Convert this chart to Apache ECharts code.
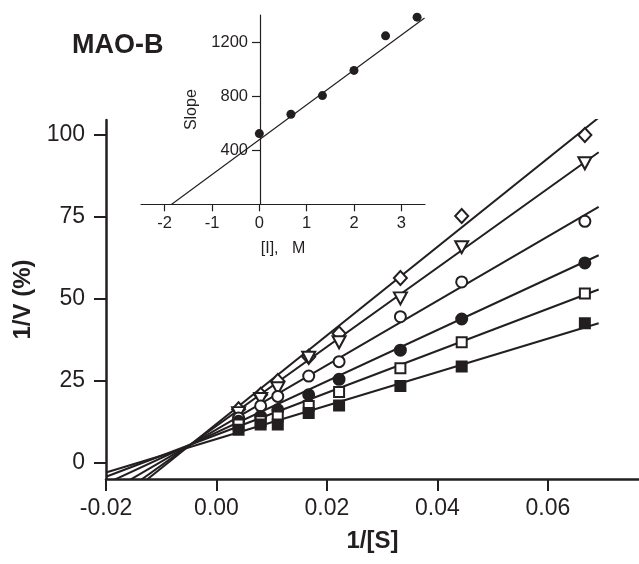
<!DOCTYPE html>
<html>
<head>
<meta charset="utf-8">
<script src="https://cdn.jsdelivr.net/npm/echarts@6/dist/echarts.min.js"></script>
<style>
html,body{margin:0;padding:0;background:#fff;}
#chart{width:639px;height:564px;}
</style>
</head>
<body>
<div id="chart"></div>
<script>
// ---- Main Lineweaver-Burk plot data ----
var invS = [0.004, 0.008, 0.0111, 0.0167, 0.0222, 0.0333, 0.0444, 0.0667];
var diamondY = [16.3, 20.7, 24.9, 32.3, 39.4, 56.3, 75.2, 99.9];
var triDownY = [15.1, 19.4, 22.7, 32.0, 36.7, 50.1, 65.7, 91.3];
var openCircleY = [13.6, 17.3, 20.2, 26.4, 30.8, 44.5, 55.1, 73.6];
var filledCircleY = [12.6, 14.1, 16.1, 20.7, 25.4, 34.3, 43.8, 60.9];
var openSquareY = [11.6, 12.6, 14.1, 17.3, 21.5, 28.8, 36.7, 51.6];
var filledSquareY = [10.0, 11.6, 11.6, 15.1, 17.4, 23.4, 29.3, 42.5];

// fitted line parameters (slope, intercept)
var fitSlopes = [1350, 1206, 981, 781, 640, 510];
var fitIntercepts = [11.8, 11.2, 10.1, 9.2, 8.5, 7.2];
var fitXRange = [-0.02, 0.0692];

var mainXTicks = [-0.02, 0, 0.02, 0.04, 0.06];
var mainYTicks = [0, 25, 50, 75, 100];

// ---- Inset (replot) data ----
var inhibConc = [0, 0.667, 1.333, 2, 2.667, 3.333];
var slopeVals = [523, 666, 804, 990, 1246, 1384];
var insetFit = {slope: 258, intercept: 478};
var insetFitXRange = [-2.5, 3.49];
var insetXTicks = [-2, -1, 0, 1, 2, 3];
var insetYTicks = [400, 800, 1200];

var INK = '#231f20';
var FONT = '"Liberation Sans", Arial, sans-serif';

function pairs(xs, ys) { return xs.map(function (x, i) { return [x, ys[i]]; }); }
function fitLine(k, b, range) { return [[range[0], b + k * range[0]], [range[1], b + k * range[1]]]; }

var markerDefs = [
  {y: diamondY, symbol: 'diamond', size: [13, 14], fill: '#fff', rot: 0},
  {y: triDownY, symbol: 'triangle', size: [13, 12], fill: '#fff', rot: 180},
  {y: openCircleY, symbol: 'circle', size: 11, fill: '#fff', rot: 0},
  {y: filledCircleY, symbol: 'circle', size: 11, fill: INK, rot: 0},
  {y: openSquareY, symbol: 'rect', size: 10, fill: '#fff', rot: 0},
  {y: filledSquareY, symbol: 'rect', size: 10, fill: INK, rot: 0}
];

var series = [];
fitSlopes.forEach(function (k, i) {
  series.push({
    type: 'line', xAxisIndex: 0, yAxisIndex: 0,
    data: fitLine(k, fitIntercepts[i], fitXRange),
    showSymbol: false, symbol: 'none', clip: true, silent: true,
    lineStyle: {color: INK, width: 2}, z: 2, animation: false
  });
});
markerDefs.forEach(function (m) {
  series.push({
    type: 'scatter', xAxisIndex: 0, yAxisIndex: 0,
    data: pairs(invS, m.y),
    symbol: m.symbol, symbolSize: m.size, symbolRotate: m.rot,
    itemStyle: {color: m.fill, borderColor: INK, borderWidth: 2, opacity: 1},
    z: 3, animation: false
  });
});
// inset
series.push({
  type: 'line', xAxisIndex: 1, yAxisIndex: 1,
  data: fitLine(insetFit.slope, insetFit.intercept, insetFitXRange),
  showSymbol: false, symbol: 'none', clip: true, silent: true,
  lineStyle: {color: INK, width: 1.2}, z: 2, animation: false
});
series.push({
  type: 'scatter', xAxisIndex: 1, yAxisIndex: 1,
  data: pairs(inhibConc, slopeVals),
  symbol: 'circle', symbolSize: 9,
  itemStyle: {color: INK, opacity: 1}, z: 3, animation: false
});

var chart = echarts.init(document.getElementById('chart'), null, {renderer: 'canvas'});
chart.setOption({
  backgroundColor: '#fff',
  animation: false,
  title: {
    text: 'MAO-B', left: 67, top: 27,
    textStyle: {fontFamily: FONT, fontSize: 27, fontWeight: 'bold', color: INK}
  },
  grid: [
    {left: 106, right: 0, top: 120, bottom: 85, containLabel: false},
    {left: 141, width: 284, top: 15, height: 189.3, containLabel: false},
    // grid carrying the inset's vertical axis, placed at [I] = 0
    {left: 260, width: 165, top: 15, height: 189.3, containLabel: false}
  ],
  xAxis: [
    {
      type: 'value', gridIndex: 0, min: -0.02, max: 0.0765,
      name: '1/[S]', nameLocation: 'middle', nameGap: 50,
      nameTextStyle: {fontFamily: FONT, fontSize: 24, fontWeight: 'bold', color: INK},
      axisLine: {onZero: false, lineStyle: {color: INK, width: 2.5}},
      axisTick: {show: true, length: 12, inside: false, customValues: mainXTicks, lineStyle: {color: INK, width: 2}},
      axisLabel: {customValues: mainXTicks, margin: 18, fontFamily: FONT, fontSize: 23, color: INK,
        formatter: function (v) { return v.toFixed(2); }},
      splitLine: {show: false}
    },
    {
      type: 'value', gridIndex: 1, min: -2.5, max: 3.5,
      name: '[I],   M', nameLocation: 'middle', nameGap: 36,
      nameTextStyle: {fontFamily: FONT, fontSize: 16, color: INK},
      axisLine: {onZero: false, lineStyle: {color: INK, width: 1.2}},
      axisTick: {show: true, length: 7, customValues: insetXTicks, lineStyle: {color: INK, width: 1.2}},
      axisLabel: {customValues: insetXTicks, margin: 11, fontFamily: FONT, fontSize: 16.5, color: INK,
        formatter: function (v) { return String(v); }},
      splitLine: {show: false}
    },
    {
      type: 'value', gridIndex: 2, min: 0, max: 3.5, show: false
    }
  ],
  yAxis: [
    {
      type: 'value', gridIndex: 0, min: -5, max: 104.5,
      name: '1/V (%)', nameLocation: 'middle', nameGap: 68, nameRotate: 90,
      nameTextStyle: {fontFamily: FONT, fontSize: 24, fontWeight: 'bold', color: INK},
      axisLine: {onZero: false, lineStyle: {color: INK, width: 2.5}},
      axisTick: {show: true, length: 12, customValues: mainYTicks, lineStyle: {color: INK, width: 2}},
      axisLabel: {customValues: mainYTicks, margin: 21, fontFamily: FONT, fontSize: 23, color: INK,
        formatter: function (v) { return String(v); }},
      splitLine: {show: false}
    },
    {
      type: 'value', gridIndex: 1, min: 0, max: 1400, show: false,
      splitLine: {show: false}
    },
    {
      type: 'value', gridIndex: 2, min: 0, max: 1400,
      name: 'Slope', nameLocation: 'middle', nameGap: 60, nameRotate: 90,
      nameTextStyle: {fontFamily: FONT, fontSize: 16, color: INK},
      axisLine: {onZero: false, lineStyle: {color: INK, width: 1.2}},
      axisTick: {show: true, length: 8, customValues: insetYTicks, lineStyle: {color: INK, width: 1.2}},
      axisLabel: {customValues: insetYTicks, margin: 12, fontFamily: FONT, fontSize: 16.5, color: INK,
        formatter: function (v) { return String(v); }},
      splitLine: {show: false}
    }
  ],
  series: series
});
</script>
</body>
</html>
